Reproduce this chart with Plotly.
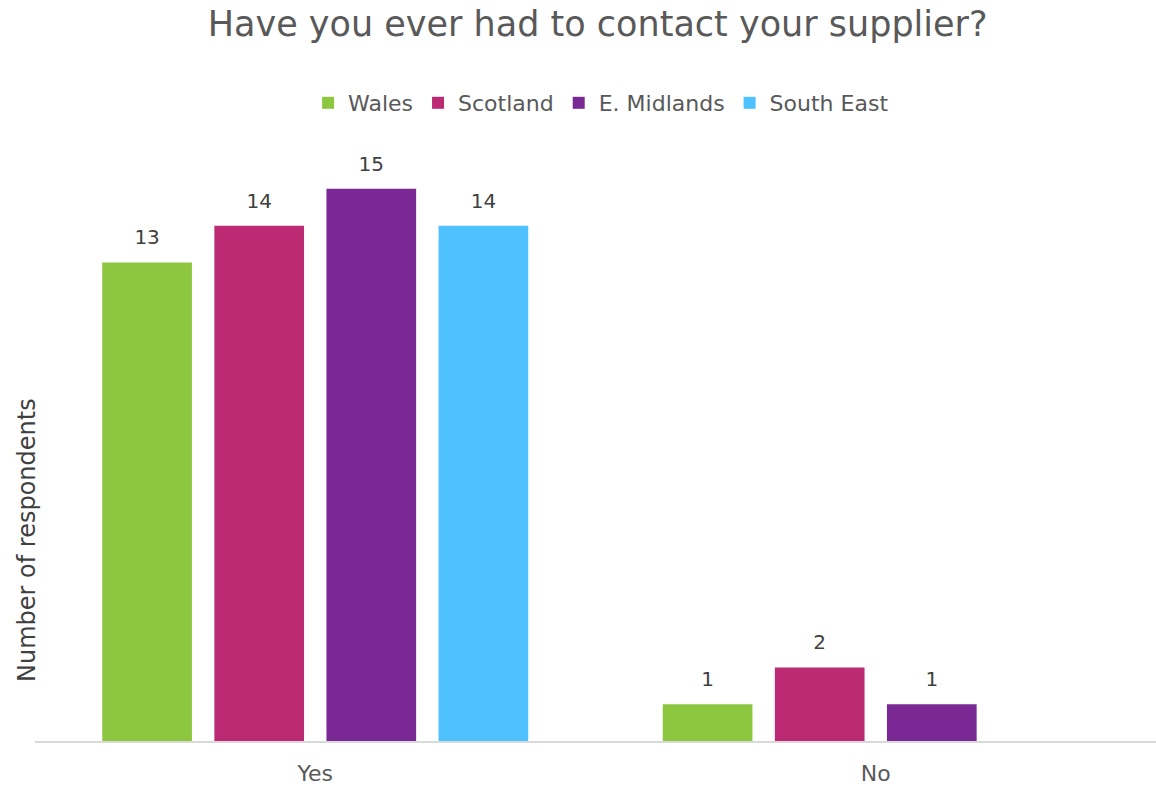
import plotly.graph_objects as go

categories = ["Yes", "No"]
series_names = ["Wales", "Scotland", "E. Midlands", "South East"]
wales = [13, 1]
scotland = [14, 2]
e_midlands = [15, 1]
south_east = [14, None]
colors = ["#8DC63F", "#BC2A74", "#7A2894", "#4FC1FF"]

FONT = "DejaVu Sans"
values = [wales, scotland, e_midlands, south_east]

fig = go.Figure()
for name, vals, col in zip(series_names, values, colors):
    fig.add_trace(go.Bar(
        x=categories, y=vals, name=name, marker=dict(color=col, line=dict(width=0)),
        text=[("" if v is None else f"<span style='font-size:20px'>{v}</span><br> ") for v in vals],
        textposition="outside", cliponaxis=False,
        textfont=dict(size=10, color="#404040", family=FONT),
    ))

fig.update_layout(
    width=1156, height=786,
    margin=dict(l=35, r=0, t=152, b=45),
    paper_bgcolor="white", plot_bgcolor="white",
    barmode="group", bargap=0.2, bargroupgap=0.2,
    font=dict(family=FONT, color="#595959"),
    title=dict(text="Have you ever had to contact your supplier?", x=0.517, xanchor="center",
               y=0.985, yanchor="top", font=dict(size=35, color="#595959", family=FONT)),
    legend=dict(orientation="h", x=0.505, xanchor="center", y=1 - 82 / 786, yref="container",
                yanchor="top", font=dict(size=22, color="#595959", family=FONT),
                traceorder="normal", itemwidth=30),
    xaxis=dict(showline=True, linecolor="#D9D9D9", linewidth=2, ticks="",
               ticklabelstandoff=12,
               tickfont=dict(size=22, color="#595959", family=FONT), showgrid=False),
    yaxis=dict(range=[0, 16], visible=False, showgrid=False),
    annotations=[dict(text="Number of respondents", textangle=-90,
                      x=(27 - 35) / 1121, xref="paper", xanchor="center",
                      y=(741 - 540) / 589, yref="paper", yanchor="middle",
                      showarrow=False,
                      font=dict(size=24, color="#404040", family=FONT))],
)
fig.write_html("out.html")
